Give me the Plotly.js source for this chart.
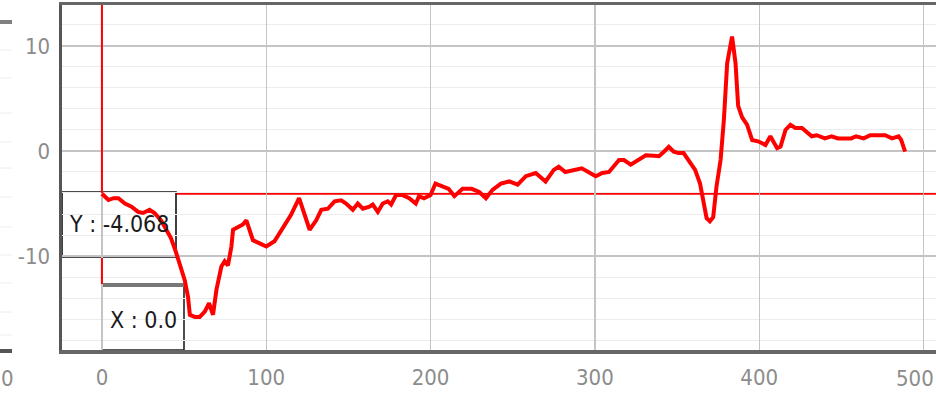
<!DOCTYPE html>
<html>
<head>
<meta charset="utf-8">
<script src="https://cdn.plot.ly/plotly-3.0.1.min.js"></script>
<style>html,body{margin:0;padding:0;background:#fff;}#chart{width:936px;height:394px;}</style>
</head>
<body>
<div id="chart"></div>
<script>
// ---- data ----
var xValues = [0,4,7,10,14,18,22,25,29,32,
  36,39,42,45,48,50.4,52.4,53.5,56.5,59.5,
  62.6,65.2,67.6,69.7,72.7,74.7,76.7,78.8,79.8,82.8,
  85.8,87.9,89.9,91.9,96,100,105,110,115,120,
  123,126.4,130.4,133.5,137.5,141.6,145.6,148.6,152.7,155.7,
  158.8,162.8,164.8,167.9,170.9,173.9,176,179,183,187,
  191,193,196,200,203,207,211,214.5,219.5,225,
  229.6,233.7,237.7,242.8,247.9,253,258,264,270,275,
  278,282,287,292,296,300.5,304.5,308.6,314.7,317.7,
  321.8,325.8,331,336,339,342,345,348,351,354,
  357,361,364,366,368,370,372,374,376.5,378.5,
  380.5,383.5,385.6,387.2,389.6,392.6,395.7,399.7,403.8,406.8,
  410.9,413,416,419,422,426,429,432,435,440,
  444,448,452,456,459,463.6,467.6,472.7,476.7,480.8,
  484.8,486.4,488.8];
var yValues = [-4.068,-4.67,-4.5,-4.5,-5.0,-5.3,-5.8,-5.9,-5.6,-5.9,
  -6.6,-7.4,-8.3,-9.6,-11.0,-12.3,-13.9,-15.6,-15.8,-15.8,
  -15.3,-14.5,-15.6,-13.2,-11.0,-10.5,-10.9,-9.1,-7.5,-7.2,
  -7.0,-6.6,-7.5,-8.5,-8.8,-9.1,-8.6,-7.4,-6.1,-4.5,
  -5.8,-7.5,-6.6,-5.6,-5.5,-4.8,-4.7,-5.0,-5.6,-5.0,
  -5.5,-5.3,-5.1,-5.8,-5.0,-4.8,-5.1,-4.2,-4.2,-4.5,
  -5.0,-4.3,-4.5,-4.2,-3.1,-3.4,-3.6,-4.3,-3.6,-3.6,
  -3.9,-4.5,-3.7,-3.1,-2.9,-3.2,-2.4,-2.1,-2.9,-1.8,
  -1.5,-2.0,-1.8,-1.65,-2.0,-2.4,-2.1,-2.0,-0.86,-0.86,
  -1.3,-0.86,-0.4,-0.45,-0.5,-0.07,0.4,-0.07,-0.2,-0.2,
  -0.86,-1.8,-3.1,-4.7,-6.4,-6.7,-6.3,-3.4,-0.86,2.95,
  8.35,10.9,8.35,4.3,3.2,2.5,1.05,0.9,0.57,1.4,
  0.26,0.42,2.0,2.5,2.2,2.2,1.8,1.4,1.5,1.2,
  1.4,1.2,1.2,1.2,1.4,1.2,1.5,1.5,1.5,1.2,
  1.4,1.05,-0.07];
var cursorX = 0.0;
var cursorY = -4.068;
var xTickVals = [0,100,200,300,400,500];
var xTickText = ['0','100','200','300','400',''];   // '500' is placed as an edge label below
var lastXTickLabel = '500';
var yTickVals = [-10,0,10];
var cursorLabelY = "Y : -4.068";
var cursorLabelX = "X : 0.0";

// ---- geometry helpers (pixel -> paper) ----
var W = 936, H = 394, ML = 62, MR = 0, MT = 5, MB = 44;
var PW = W - ML - MR, PH = H - MT - MB;
function px(x){ return (x - ML) / PW; }
function py(y){ return (H - MB - y) / PH; }

var FONT = "'DejaVu Sans Condensed', 'DejaVu Sans', sans-serif";

var shapes = [
  // crosshair: horizontal part (under the curve and the readout boxes)
  {type:'line', layer:'between', xref:'paper', yref:'y', x0:0, x1:1, y0:cursorY, y1:cursorY, line:{color:'#ff0000', width:2}},
  // Y readout box
  {type:'rect', layer:'between', xref:'paper', yref:'paper', x0:px(62), x1:px(176), y0:py(257), y1:py(192), fillcolor:'#ffffff', line:{color:'#111', width:1.6}},
  // X readout box
  {type:'rect', layer:'between', xref:'paper', yref:'paper', x0:px(102), x1:px(184), y0:py(350), y1:py(285), fillcolor:'#ffffff', line:{color:'#222', width:1.6}},
  {type:'line', layer:'between', xref:'paper', yref:'paper', x0:px(102), x1:px(184), y0:py(285), y1:py(285), line:{color:'#777', width:4}},
  // crosshair: vertical part, visible outside the readout boxes
  {type:'line', layer:'above', xref:'x', yref:'paper', x0:cursorX, x1:cursorX, y0:py(193), y1:1, line:{color:'#ff0000', width:2}},
  {type:'line', layer:'above', xref:'x', yref:'paper', x0:cursorX, x1:cursorX, y0:py(284), y1:py(258), line:{color:'#ff0000', width:2}}
];
// neighbouring panel fragment on the far left
var leftGrid = [50, 78, 113, 142, 168, 197, 227, 255, 283, 312, 335];
leftGrid.forEach(function(g){
  shapes.push({type:'line', layer:'above', xref:'paper', yref:'paper', x0:px(0), x1:px(12), y0:py(g), y1:py(g), line:{color:'#eeeeee', width:1}});
});
shapes.push({type:'line', layer:'above', xref:'paper', yref:'paper', x0:px(0), x1:px(12), y0:py(22), y1:py(22), line:{color:'#808080', width:4}});
shapes.push({type:'line', layer:'above', xref:'paper', yref:'paper', x0:px(0), x1:px(12), y0:py(351), y1:py(351), line:{color:'#555', width:4}});

var data = [{
  type:'scatter', mode:'lines', x:xValues, y:yValues,
  line:{color:'#ff0000', width:4}, hoverinfo:'skip'
}];

var layout = {
  width:W, height:H,
  margin:{l:ML, r:MR, t:MT, b:MB, pad:0},
  paper_bgcolor:'#ffffff', plot_bgcolor:'#ffffff',
  showlegend:false,
  font:{family:FONT, size:22, color:'#8c8c8c'},
  xaxis:{
    range:[-24.3, 507.6], tickvals:xTickVals, ticktext:xTickText,
    showgrid:true, gridcolor:'#c4c4c4', gridwidth:1.3,
    zeroline:false, showline:true, mirror:true, linecolor:'#666', linewidth:3.5,
    ticks:'outside', ticklen:5, tickcolor:'rgba(0,0,0,0)',
    tickfont:{family:FONT, size:22, color:'#8c8c8c'}
  },
  yaxis:{
    range:[-18.95, 13.9], tickvals:yTickVals, ticktext:yTickVals.map(String),
    showgrid:true, gridcolor:'#c4c4c4', gridwidth:1.3,
    minor:{dtick:2, tick0:0, showgrid:true, gridcolor:'#ececec', gridwidth:1, ticks:''},
    zeroline:false, showline:true, mirror:false, linecolor:'#555', linewidth:3.5,
    ticks:'outside', ticklen:4, tickcolor:'rgba(0,0,0,0)',
    tickfont:{family:FONT, size:22, color:'#8c8c8c'}
  },
  shapes:shapes,
  annotations:[
    {xref:'paper', yref:'paper', x:px(67), y:py(224), xanchor:'left', yanchor:'middle', text:cursorLabelY, showarrow:false, font:{family:FONT, size:23, color:'#1a1a1a'}},
    {xref:'paper', yref:'paper', x:px(108), y:py(320), xanchor:'left', yanchor:'middle', text:cursorLabelX, showarrow:false, font:{family:FONT, size:23, color:'#1a1a1a'}},
    {xref:'paper', yref:'paper', x:px(-1), y:py(378), xanchor:'left', yanchor:'middle', text:'0', showarrow:false, font:{family:FONT, size:22, color:'#8c8c8c'}},
    {xref:'paper', yref:'paper', x:1, y:py(378), xanchor:'right', yanchor:'middle', text:lastXTickLabel, showarrow:false, font:{family:FONT, size:22, color:'#8c8c8c'}}
  ]
};

Plotly.newPlot('chart', data, layout, {displayModeBar:false, staticPlot:true});
</script>
</body>
</html>
